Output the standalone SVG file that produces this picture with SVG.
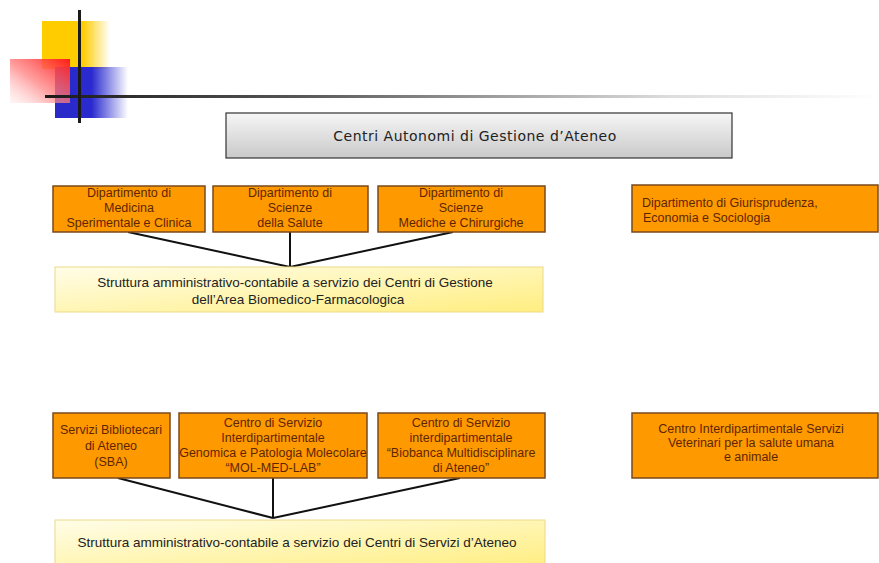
<svg xmlns="http://www.w3.org/2000/svg" width="879" height="563" viewBox="0 0 879 563">
<defs>
<linearGradient id="gYel" x1="0" y1="0" x2="1" y2="0"><stop offset="0" stop-color="#ffcc00"/><stop offset="0.6" stop-color="#ffcc00"/><stop offset="1" stop-color="#ffcc00" stop-opacity="0"/></linearGradient>
<linearGradient id="gBlue" x1="0" y1="0" x2="1" y2="0"><stop offset="0" stop-color="#2a2ac8"/><stop offset="0.5" stop-color="#2a2ad0"/><stop offset="1" stop-color="#2a2ad0" stop-opacity="0"/></linearGradient>
<linearGradient id="gRed" x1="1" y1="0" x2="0" y2="1"><stop offset="0" stop-color="#ff1a1a"/><stop offset="0.55" stop-color="#ff8080" stop-opacity="0.75"/><stop offset="1" stop-color="#ffd0d0" stop-opacity="0.2"/></linearGradient>
<linearGradient id="gLine" x1="0" y1="0" x2="1" y2="0"><stop offset="0" stop-color="#1a1a1a"/><stop offset="0.3" stop-color="#555"/><stop offset="0.75" stop-color="#ddd"/><stop offset="1" stop-color="#fff"/></linearGradient>
<linearGradient id="gTitle" x1="0" y1="0" x2="0" y2="1"><stop offset="0" stop-color="#f6f6f6"/><stop offset="1" stop-color="#c9c9c9"/></linearGradient>
<linearGradient id="gPale" x1="0" y1="0" x2="1" y2="1"><stop offset="0" stop-color="#fffde8"/><stop offset="1" stop-color="#ffee80"/></linearGradient>
</defs>
<style>
.org{fill:#ff9900;stroke:#7a4a1e;stroke-width:1.5}
.pale{fill:url(#gPale);stroke:#ecd98a;stroke-width:1}
.t{font-family:"Liberation Sans",Arial,sans-serif;font-size:12.5px;fill:#5e2600;text-anchor:middle}
.tl{text-anchor:start}
.ty{font-family:"Liberation Sans",Arial,sans-serif;font-size:13.5px;fill:#222;text-anchor:middle}
.ttl{font-family:"DejaVu Sans",Verdana,sans-serif;font-size:14px;letter-spacing:0.5px;fill:#222;text-anchor:middle}
.c{stroke:#111;stroke-width:2;fill:none}
</style>
<rect width="879" height="563" fill="#fff"/>
<g id="logo">
<rect x="42" y="21" width="68" height="48" fill="url(#gYel)"/>
<rect x="55" y="67" width="73" height="51" fill="url(#gBlue)"/>
<rect x="10" y="59" width="60" height="44" fill="url(#gRed)"/>
<rect x="45" y="95" width="834" height="3" fill="url(#gLine)"/>
<rect x="78" y="10" width="3" height="113" fill="#1a1a1a"/>
</g>
<g id="title">
<rect x="226" y="113" width="506" height="45" fill="url(#gTitle)" stroke="#333" stroke-width="1.2"/>
<text class="ttl" x="475" y="141">Centri Autonomi di Gestione d’Ateneo</text>
</g>
<g id="connectors">
<path class="c" d="M128 232 L290 267 M290 232 L290 267 M453 232 L290 267"/>
<path class="c" d="M118 478 L273 518 M273 478 L273 518 M460 478 L273 518"/>
</g>
<g id="dip-medicina">
<rect class="org" x="53" y="186" width="152" height="46"/>
<text class="t" x="129" y="197">Dipartimento di</text>
<text class="t" x="129" y="212">Medicina</text>
<text class="t" x="129" y="227">Sperimentale e Clinica</text>
</g>
<g id="dip-salute">
<rect class="org" x="213" y="186" width="155" height="46"/>
<text class="t" x="290" y="197">Dipartimento di</text>
<text class="t" x="290" y="212">Scienze</text>
<text class="t" x="290" y="227">della Salute</text>
</g>
<g id="dip-chirurgiche">
<rect class="org" x="378" y="186" width="167" height="46"/>
<text class="t" x="461" y="197">Dipartimento di</text>
<text class="t" x="461" y="212">Scienze</text>
<text class="t" x="461" y="227">Mediche e Chirurgiche</text>
</g>
<g id="dip-giurisprudenza">
<rect class="org" x="632" y="185" width="246" height="47"/>
<text class="t tl" x="642" y="207">Dipartimento di Giurisprudenza,</text>
<text class="t tl" x="643" y="222">Economia e Sociologia</text>
</g>
<g id="struttura-biomedico">
<rect class="pale" x="55" y="267" width="488" height="45"/>
<text class="ty" x="295" y="287">Struttura  amministrativo-contabile  a servizio dei Centri di Gestione</text>
<text class="ty" x="298" y="304">dell’Area Biomedico-Farmacologica</text>
</g>
<g id="sba">
<rect class="org" x="53" y="413" width="117" height="65"/>
<text class="t" x="111" y="434">Servizi Bibliotecari</text>
<text class="t" x="111" y="450">di Ateneo</text>
<text class="t" x="111" y="466">(SBA)</text>
</g>
<g id="mol-med-lab">
<rect class="org" x="179" y="413" width="188" height="65"/>
<text class="t" x="273" y="427">Centro di Servizio</text>
<text class="t" x="273" y="442">Interdipartimentale</text>
<text class="t" x="273" y="457">Genomica e Patologia Molecolare</text>
<text class="t" x="273" y="472">“MOL-MED-LAB”</text>
</g>
<g id="biobanca">
<rect class="org" x="378" y="413" width="167" height="65"/>
<text class="t" x="461" y="427">Centro di Servizio</text>
<text class="t" x="461" y="442">interdipartimentale</text>
<text class="t" x="461" y="457">“Biobanca Multidisciplinare</text>
<text class="t" x="461" y="472">di Ateneo”</text>
</g>
<g id="veterinari">
<rect class="org" x="632" y="413" width="246" height="65"/>
<text class="t" x="751" y="433">Centro Interdipartimentale  Servizi</text>
<text class="t" x="751" y="447">Veterinari per la salute umana</text>
<text class="t" x="751" y="461">e animale</text>
</g>
<g id="struttura-servizi">
<rect class="pale" x="55" y="520" width="490" height="48"/>
<text class="ty" x="297" y="547">Struttura  amministrativo-contabile  a servizio dei Centri di Servizi d’Ateneo</text>
</g>
</svg>
